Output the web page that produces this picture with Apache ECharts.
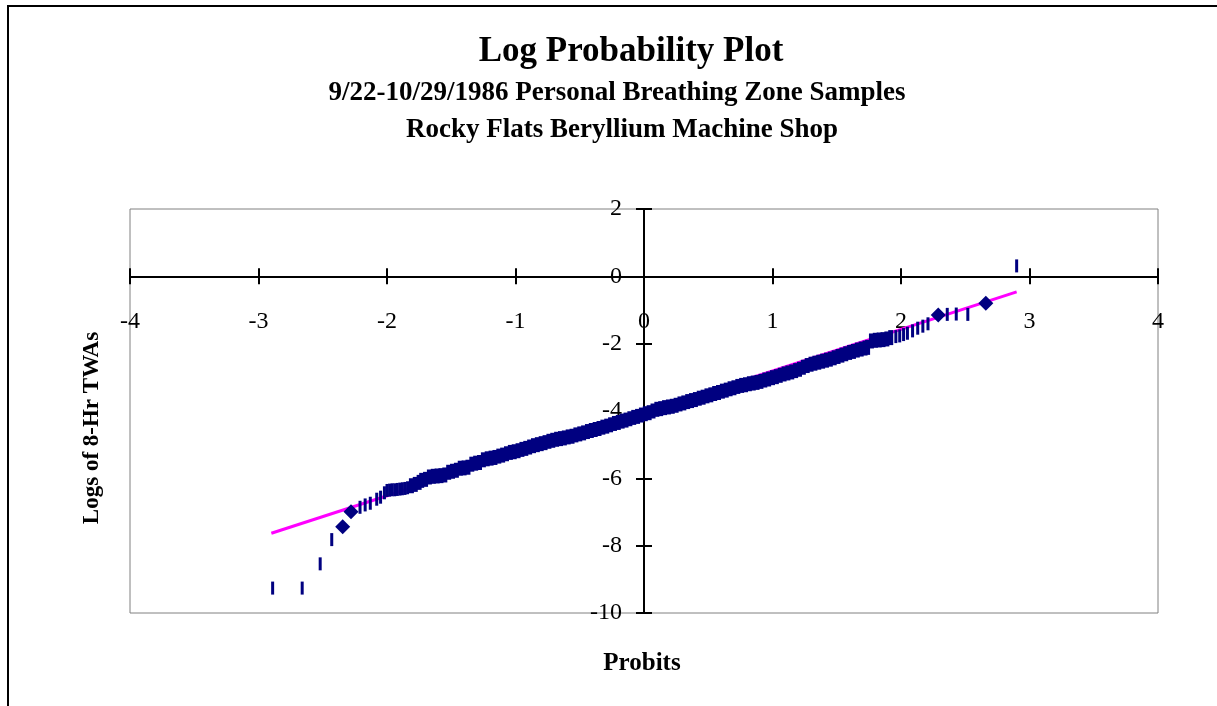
<!DOCTYPE html>
<html>
<head>
<meta charset="utf-8">
<script src="https://cdn.jsdelivr.net/npm/echarts@6/dist/echarts.min.js"></script>
<style>
html,body{margin:0;padding:0;background:#fff;}
#chart{width:1217px;height:706px;}
</style>
</head>
<body>
<div id="chart"></div>
<script>
// ---- data ----
const titleText = 'Log Probability Plot';
const subtitle1 = '9/22-10/29/1986 Personal Breathing Zone Samples';
const subtitle2 = 'Rocky Flats Beryllium Machine Shop';
const xAxisTitle = 'Probits';
const yAxisTitle = 'Logs of 8-Hr TWAs';

const xTicks = [-4, -3, -2, -1, 0, 1, 2, 3, 4];
const yTicks = [-10, -8, -6, -4, -2, 0, 2];

// sparse points (tails), drawn as thin dashes
const tailProbits = [-2.89, -2.66, -2.52, -2.43, -2.21, -2.17, -2.13, -2.08, -2.05, -2.02,
  -2.00, -1.98, -1.96, -1.94, -1.92, -1.90, -1.88, -1.86, -1.84,
  1.96, 1.99, 2.02, 2.05, 2.09, 2.13, 2.17, 2.21, 2.36, 2.43, 2.52, 2.90];
const tailLogs = [-9.26, -9.26, -8.54, -7.82, -6.86, -6.79, -6.74, -6.62, -6.56, -6.43,
  -6.36, -6.35, -6.34, -6.34, -6.33, -6.32, -6.31, -6.30, -6.28,
  -1.79, -1.77, -1.73, -1.69, -1.62, -1.54, -1.48, -1.41, -1.13, -1.12, -1.13, 0.31];

// dense central points
const bandProbits = [-1.81, -1.78, -1.75, -1.73, -1.70, -1.67, -1.64, -1.61, -1.58, -1.55,
  -1.52, -1.49, -1.46, -1.43, -1.40, -1.37, -1.34, -1.31, -1.28, -1.25,
  -1.22, -1.19, -1.16, -1.13, -1.10, -1.07, -1.04, -1.01, -0.98, -0.95,
  -0.92, -0.89, -0.86, -0.83, -0.80, -0.77, -0.74, -0.71, -0.68, -0.65,
  -0.62, -0.59, -0.56, -0.53, -0.50, -0.47, -0.44, -0.41, -0.38, -0.35,
  -0.32, -0.29, -0.26, -0.23, -0.20, -0.17, -0.14, -0.11, -0.08, -0.05,
  -0.02, 0.01, 0.04, 0.07, 0.10, 0.13, 0.16, 0.19, 0.22, 0.25,
  0.28, 0.31, 0.34, 0.37, 0.40, 0.43, 0.46, 0.49, 0.52, 0.55,
  0.58, 0.61, 0.64, 0.67, 0.70, 0.73, 0.76, 0.79, 0.82, 0.85,
  0.88, 0.91, 0.94, 0.97, 1.00, 1.03, 1.06, 1.09, 1.12, 1.15,
  1.18, 1.21, 1.24, 1.27, 1.30, 1.33, 1.36, 1.39, 1.42, 1.45,
  1.48, 1.51, 1.54, 1.57, 1.60, 1.63, 1.66, 1.69, 1.72, 1.74,
  1.77, 1.80, 1.83, 1.86, 1.89, 1.92];
const bandLogs = [-6.22, -6.18, -6.12, -6.06, -6.03, -5.96, -5.94, -5.93, -5.92, -5.90,
  -5.82, -5.79, -5.76, -5.70, -5.69, -5.67, -5.58, -5.55, -5.53, -5.45,
  -5.42, -5.40, -5.38, -5.34, -5.31, -5.27, -5.23, -5.21, -5.18, -5.14,
  -5.11, -5.07, -5.03, -5.00, -4.97, -4.94, -4.90, -4.87, -4.84, -4.82,
  -4.80, -4.77, -4.75, -4.71, -4.68, -4.65, -4.61, -4.58, -4.55, -4.52,
  -4.48, -4.45, -4.41, -4.37, -4.34, -4.30, -4.27, -4.23, -4.19, -4.16,
  -4.12, -4.08, -4.05, -4.00, -3.95, -3.93, -3.90, -3.88, -3.86, -3.83,
  -3.79, -3.76, -3.72, -3.69, -3.66, -3.62, -3.59, -3.55, -3.52, -3.48,
  -3.45, -3.41, -3.38, -3.34, -3.31, -3.27, -3.24, -3.22, -3.19, -3.17,
  -3.15, -3.12, -3.08, -3.05, -3.01, -2.98, -2.94, -2.90, -2.87, -2.84,
  -2.80, -2.76, -2.70, -2.65, -2.61, -2.58, -2.55, -2.52, -2.49, -2.46,
  -2.42, -2.38, -2.34, -2.30, -2.26, -2.23, -2.19, -2.16, -2.13, -2.11,
  -1.92, -1.90, -1.89, -1.88, -1.86, -1.82];

// points drawn as diamonds
const diamondProbits = [-2.345, -2.28, 2.29, 2.66];
const diamondLogs = [-7.44, -6.99, -1.15, -0.80];

// fitted line
const fitProbits = [-2.90, 2.90];
const fitLogs = [-7.63, -0.46];

// ---- chart ----
const zip = (a, b) => a.map((v, i) => [v, b[i]]);
const NAVY = '#000080';
const FONT = '"Liberation Serif", "Times New Roman", serif';

const GRID = {left: 130, right: 59, top: 209, bottom: 93};
const W = 1217, H = 706;
const gridW = W - GRID.left - GRID.right;
const gridH = H - GRID.top - GRID.bottom;
const xMin = xTicks[0], xMax = xTicks[xTicks.length - 1];
const yMin = yTicks[0], yMax = yTicks[yTicks.length - 1];
// pixel distance of the zero lines from the grid edges (axes cross at 0,0)
const zeroFromBottom = gridH * (0 - yMin) / (yMax - yMin);
const zeroFromTop = gridH - zeroFromBottom;
const zeroFromLeft = gridW * (0 - xMin) / (xMax - xMin);
const zeroFromRight = gridW - zeroFromLeft;

const chart = echarts.init(document.getElementById('chart'), null, {renderer: 'canvas'});

const xBase = {type: 'value', min: xMin, max: xMax, interval: 1, splitLine: {show: false}};
const yBase = {type: 'value', min: yMin, max: yMax, interval: 2, splitLine: {show: false}};
const tick = {show: true, inside: false, length: 8, lineStyle: {color: '#000', width: 2}};

chart.setOption({
  animation: false,
  backgroundColor: '#fff',
  title: [
    {text: titleText, left: 626, textAlign: 'center', top: 29,
     textStyle: {fontFamily: FONT, fontWeight: 'bold', fontSize: 35, color: '#000'}},
    {text: subtitle1, left: 612, textAlign: 'center', top: 75,
     textStyle: {fontFamily: FONT, fontWeight: 'bold', fontSize: 27, color: '#000'}},
    {text: subtitle2, left: 617, textAlign: 'center', top: 112,
     textStyle: {fontFamily: FONT, fontWeight: 'bold', fontSize: 27, color: '#000'}},
    {text: xAxisTitle, left: 637, textAlign: 'center', top: 646,
     textStyle: {fontFamily: FONT, fontWeight: 'bold', fontSize: 25, color: '#000'}}
  ],
  graphic: [
    {type: 'rect', shape: {x: 8, y: 6, width: 1400, height: 900}, silent: true,
     style: {fill: 'none', stroke: '#000', lineWidth: 2}},
    {type: 'text', x: 92, y: 428, rotation: Math.PI / 2,
     style: {text: yAxisTitle, fontFamily: FONT, fontWeight: 'bold', fontSize: 23,
             fill: '#000', align: 'center', verticalAlign: 'middle'}}
  ],
  grid: Object.assign({show: true, borderColor: '#808080', borderWidth: 1,
                       backgroundColor: 'transparent'}, GRID),
  xAxis: [
    Object.assign({}, xBase, {
      position: 'bottom', offset: -zeroFromBottom,
      axisLine: {show: true, onZero: false, lineStyle: {color: '#000', width: 2}},
      axisTick: tick,
      axisLabel: {show: true, margin: 33, fontFamily: FONT, fontSize: 24, color: '#000'}
    }),
    Object.assign({}, xBase, {
      position: 'top', offset: -zeroFromTop,
      axisLine: {show: false, onZero: false},
      axisTick: tick,
      axisLabel: {show: false}
    })
  ],
  yAxis: [
    Object.assign({}, yBase, {
      position: 'left', offset: -zeroFromLeft,
      axisLine: {show: true, onZero: false, lineStyle: {color: '#000', width: 2}},
      axisTick: tick,
      axisLabel: {show: true, margin: 22, fontFamily: FONT, fontSize: 24, color: '#000'}
    }),
    Object.assign({}, yBase, {
      position: 'right', offset: -zeroFromRight,
      axisLine: {show: false, onZero: false},
      axisTick: tick,
      axisLabel: {show: false}
    })
  ],
  series: [
    {type: 'line', data: zip(fitProbits, fitLogs), symbol: 'none', z: 2,
     lineStyle: {color: '#FF00FF', width: 3}},
    {type: 'scatter', data: zip(bandProbits, bandLogs), symbol: 'rect', symbolSize: [5, 15], z: 3,
     itemStyle: {color: NAVY, opacity: 1}},
    {type: 'scatter', data: zip(tailProbits, tailLogs), symbol: 'rect', symbolSize: [3, 13], z: 3,
     itemStyle: {color: NAVY, opacity: 1}},
    {type: 'scatter', data: zip(diamondProbits, diamondLogs), symbol: 'diamond', symbolSize: [15, 15], z: 4,
     itemStyle: {color: NAVY, opacity: 1}}
  ]
});
</script>
</body>
</html>
